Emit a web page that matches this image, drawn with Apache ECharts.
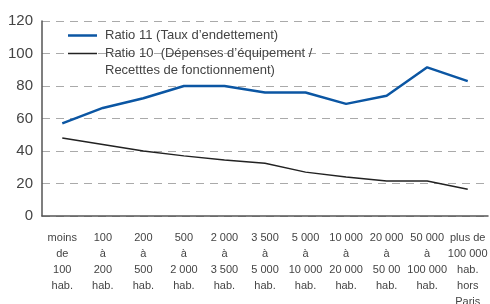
<!DOCTYPE html>
<html>
<head>
<meta charset="utf-8">
<title>ratios</title>
<script src="https://cdn.jsdelivr.net/npm/echarts@6/dist/echarts.min.js"></script>
<style>
  html, body { margin: 0; padding: 0; background: #fff; }
  #main { width: 490px; height: 304px; }
</style>
</head>
<body>
<div id="main"></div>
<script>
// strates de population
var categories = [
  'moins\nde\n100\nhab.', '100\nà\n200\nhab.', '200\nà\n500\nhab.', '500\nà\n2 000\nhab.',
  '2 000\nà\n3 500\nhab.', '3 500\nà\n5 000\nhab.', '5 000\nà\n10 000\nhab.', '10 000\nà\n20 000\nhab.',
  '20 000\nà\n50 00\nhab.', '50 000\nà\n100 000\nhab.', 'plus de\n100 000\nhab.\nhors\nParis'
];
var ratio11Name = 'Ratio 11 (Taux d\u2019endettement)';
var ratio10Name = 'Ratio 10  (Dépenses d\u2019équipement /\nRecetttes de fonctionnement)';
var ratio11 = [57, 66.5, 72.5, 80, 80, 76, 76, 69, 74, 91.5, 83];
var ratio10 = [48, 44, 40, 37, 34.5, 32.5, 27, 24, 21.5, 21.5, 16.5];
var yTicks = { min: 0, max: 120, interval: 20 };

var myChart = echarts.init(document.getElementById('main'));

var legendText = { fontSize: 13, color: '#444', lineHeight: 17, padding: [0, 0, 0, 3] };

var option = {
    animation: false,
    textStyle: { fontFamily: 'Liberation Sans' },
    grid: { left: 42, right: 2, top: 21, bottom: 88, outerBoundsMode: 'none' },
    legend: [{
        left: 63,
        top: 22,
        icon: 'rect',
        itemWidth: 29,
        itemHeight: 2.5,
        textStyle: legendText,
        data: [ratio11Name]
    }, {
        left: 63,
        top: 23,
        icon: 'rect',
        itemWidth: 29,
        itemHeight: 1.5,
        textStyle: legendText,
        // ligne vide en tête pour aligner le trait sur la 1re ligne du texte
        formatter: function (name) { return '\n' + name; },
        data: [ratio10Name]
    }],
    xAxis: {
        type: 'category',
        data: categories,
        boundaryGap: true,
        axisLine: { lineStyle: { color: '#555', width: 1.5 } },
        axisTick: { alignWithLabel: true, inside: true, length: 4, lineStyle: { color: '#555' } },
        axisLabel: { color: '#444', fontSize: 11, lineHeight: 16, margin: 14, interval: 0 }
    },
    yAxis: {
        type: 'value',
        min: yTicks.min,
        max: yTicks.max,
        interval: yTicks.interval,
        axisLine: { show: true, lineStyle: { color: '#555', width: 1.5 } },
        axisTick: { show: false },
        axisLabel: { color: '#444', fontSize: 15, margin: 9 },
        splitLine: { lineStyle: { color: '#aaa', type: [8, 6] } }
    },
    series: [
        {
            name: ratio11Name,
            type: 'line',
            data: ratio11,
            symbol: 'none',
            lineStyle: { color: '#0b56a3', width: 2.5 },
            itemStyle: { color: '#0b56a3' }
        },
        {
            name: ratio10Name,
            type: 'line',
            data: ratio10,
            symbol: 'none',
            lineStyle: { color: '#222', width: 1.5 },
            itemStyle: { color: '#222' }
        }
    ]
};

myChart.setOption(option);
</script>
</body>
</html>
